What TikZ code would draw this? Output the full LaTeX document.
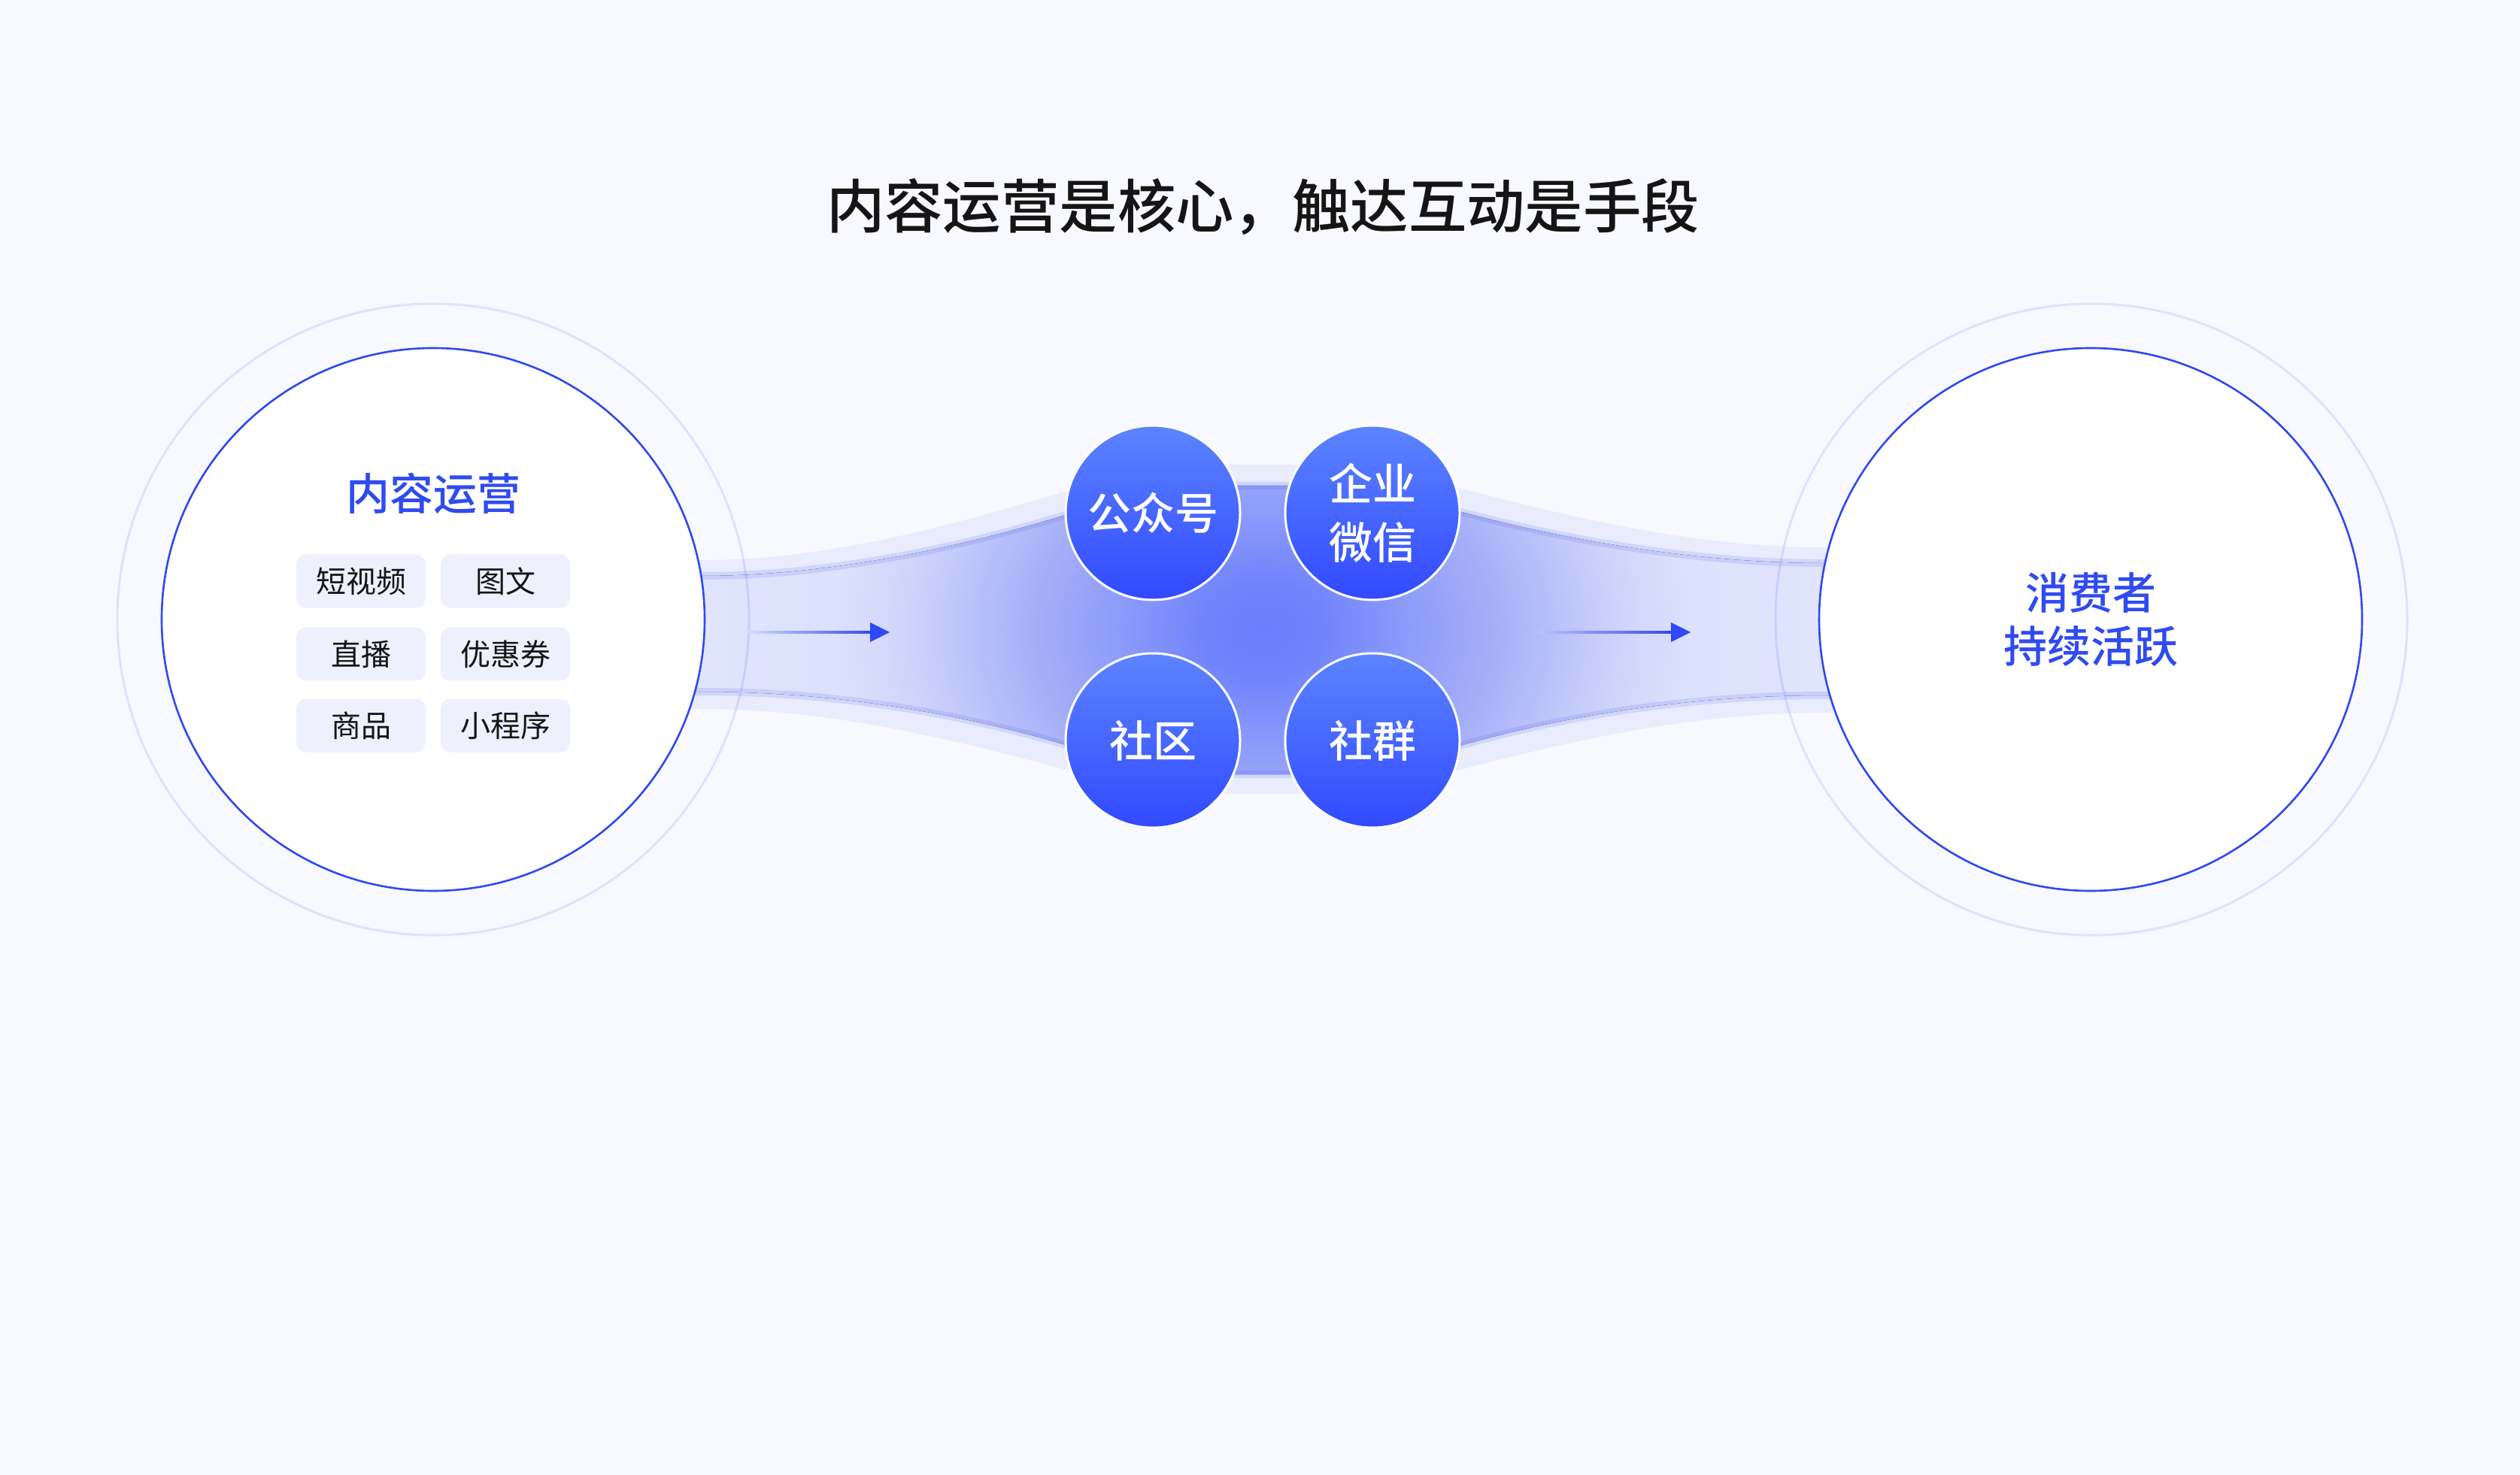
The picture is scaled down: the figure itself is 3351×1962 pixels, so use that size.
\documentclass[tikz,border=0pt]{standalone}
\usepackage{fontspec}
\setmainfont{Noto Sans CJK SC}
\newfontfamily\cjkmed{Noto Sans CJK SC Medium}
\usetikzlibrary{arrows.meta,calc}
\definecolor{bg}{HTML}{F8F9FE}
\definecolor{bandA}{HTML}{E9ECFD}
\definecolor{brand}{HTML}{3049EE}
\definecolor{textblue}{HTML}{2F4BF0}
\definecolor{arrowblue}{HTML}{3048F5}
\definecolor{tagfill}{HTML}{EEF0FD}
\definecolor{ink}{HTML}{151515}
\definecolor{chTop}{HTML}{5C84FF}
\definecolor{chBot}{HTML}{3149FF}
\definecolor{gA}{HTML}{6A7DFC}
\definecolor{gB}{HTML}{7083FC}
\definecolor{gC}{HTML}{8E9CFA}
\definecolor{gD}{HTML}{A3ADF8}
\definecolor{gE}{HTML}{C8CEFA}
\definecolor{gF}{HTML}{D5DAFC}
\definecolor{gG}{HTML}{DDE2FC}
\definecolor{gH}{HTML}{E0E4FD}
\definecolor{shaftR}{HTML}{BCC4FA}
% the path's half size corresponds to 25bp of the shading
\pgfdeclareradialshading{glow}{\pgfpoint{0bp}{0bp}}{color(0bp)=(gA); color(2.2bp)=(gB); color(5.5bp)=(gC); color(8.25bp)=(gD); color(12.4bp)=(gE); color(14.25bp)=(gF); color(16.1bp)=(gG); color(20.7bp)=(gH); color(50bp)=(gH)}
\begin{document}
\begin{tikzpicture}[x=0.5pt,y=-0.5pt,
  ring/.style={circle, minimum size=420pt, inner sep=0pt, draw=brand, draw opacity=0.13, line width=1.5pt},
  bigcircle/.style={circle, minimum size=361pt, inner sep=0pt, fill=white, draw=brand, line width=1.3pt},
  chan/.style={circle, minimum size=116pt, inner sep=0pt, top color=chTop, bottom color=chBot, draw=white, line width=1.5pt, text=white, font=\fontsize{29pt}{39pt}\selectfont\cjkmed, align=center},
  tagbox/.style={rectangle, rounded corners=6.5pt, minimum width=86pt, minimum height=35.5pt, inner sep=0pt, fill=tagfill, text=ink, font=\fontsize{20pt}{24pt}\selectfont},
  bandedge/.style={draw=brand, draw opacity=0.13, line width=5pt},
  shaft/.style={line width=0pt}
]
\useasboundingbox (0,0) rectangle (3351,1962);
\fill[bg] (0,0) rectangle (3351,1962);

\def\bandApath{(870,745) -- (933,745) .. controls (1120,745) and (1300,690) .. (1533,618) -- (1825,618) .. controls (2058,682) and (2238,728) .. (2425,728) -- (2500,728) -- (2500,948) -- (2425,948) .. controls (2238,948) and (2058,990) .. (1825,1056) -- (1533,1056) .. controls (1300,990) and (1120,943) .. (933,943) -- (870,943) -- cycle}
\def\bandBpath{(870,766) -- (933,766) .. controls (1120,766) and (1330,720) .. (1533,646) -- (1825,646) .. controls (2028,712) and (2238,749) .. (2425,749) -- (2500,749) -- (2500,925) -- (2425,925) .. controls (2238,925) and (2028,955) .. (1825,1030) -- (1533,1030) .. controls (1330,953) and (1120,920) .. (933,920) -- (870,920) -- cycle}

% outer light band
\fill[bandA] \bandApath;
% inner glowing band
\begin{scope}
  \clip \bandBpath;
  \fill[shading=glow] (780,114) rectangle (2580,1562);
\end{scope}
\path[bandedge] \bandBpath;

% big circles
\node[ring] (lring) at (576,824) {};
\node[ring] (rring) at (2781,824) {};
\node[bigcircle] (content) at (576,824) {};
\node[bigcircle, text=textblue, align=center, font=\fontsize{29pt}{35.5pt}\selectfont\cjkmed] (consumer) at (2780,824) {消费者\\持续活跃};

% title
\node[font=\fontsize{38.7pt}{46pt}\selectfont\cjkmed, text=ink] (title) at (1679.5,275) {内容运营是核心，触达互动是手段};

% left circle content
\node[font=\fontsize{29pt}{35pt}\selectfont\cjkmed, text=textblue] (ctitle) at (576,656) {内容运营};
\node[tagbox] (t1) at (480,773) {短视频};
\node[tagbox] (t2) at (672,773) {图文};
\node[tagbox] (t3) at (480,870) {直播};
\node[tagbox] (t4) at (672,870) {优惠券};
\node[tagbox] (t5) at (480,965) {商品};
\node[tagbox] (t6) at (672,965) {小程序};

% channel circles
\node[chan] (gzh) at (1533,682) {公众号};
\node[chan] (qywx) at (1825,682) {企业\\微信};
\node[chan] (sq) at (1533,985) {社区};
\node[chan] (squn) at (1825,985) {社群};

% arrows
\coordinate (la0) at (985,841);
\coordinate (la1) at (1183,841);
\coordinate (ra0) at (2046,841);
\coordinate (ra1) at (2248,841);
\shade[shaft, left color=gH, right color=arrowblue] ($(la0)+(0,-1.6)$) rectangle ($(la1)+(-24,1.6)$);
\fill[arrowblue] (la1) -- ($(la1)+(-26,-13)$) -- ($(la1)+(-26,13)$) -- cycle;
\shade[shaft, left color=shaftR, right color=arrowblue] ($(ra0)+(0,-1.6)$) rectangle ($(ra1)+(-24,1.6)$);
\fill[arrowblue] (ra1) -- ($(ra1)+(-26,-13)$) -- ($(ra1)+(-26,13)$) -- cycle;
\end{tikzpicture}
\end{document}
